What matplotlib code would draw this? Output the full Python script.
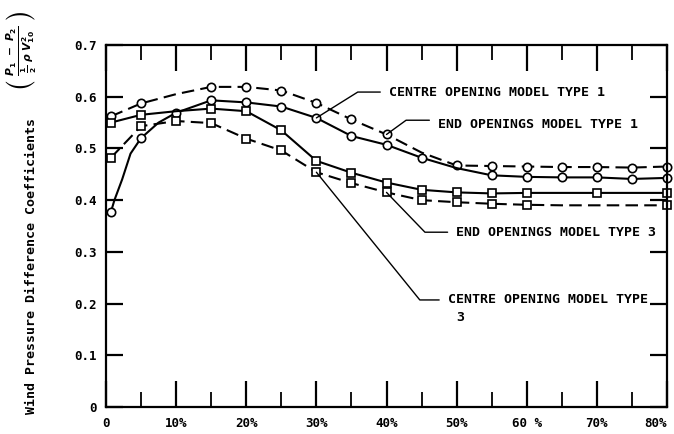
import numpy as np
import matplotlib
matplotlib.use('Agg')
import matplotlib.pyplot as plt

plt.rcParams['font.family'] = ['DejaVu Sans Mono', 'DejaVu Sans']
plt.rcParams['font.weight'] = 'bold'

# percentage of opening (x)
x_std = [0.7, 5, 10, 15, 20, 25, 30, 35, 40, 45, 50, 55, 60, 65, 70, 75, 80]
x_b = [0.7, 1.2, 2.3, 3.5, 5, 7.5, 10, 15, 20, 25, 30, 35, 40, 45, 50, 55, 60, 65, 70, 75, 80]

# end openings model type 1 (dashed, circles)
end1 = [0.562, 0.587, 0.605, 0.619, 0.619, 0.612, 0.588, 0.556, 0.527, 0.492,
        0.467, 0.466, 0.465, 0.464, 0.464, 0.463, 0.465]
end1_marks = [0.7, 5, 15, 20, 25, 30, 35, 40, 50, 55, 60, 65, 70, 75, 80]

# centre opening model type 1 (solid, circles)
centre1 = [0.377, 0.40, 0.44, 0.49, 0.52, 0.55, 0.569, 0.593, 0.589, 0.581, 0.559,
           0.524, 0.507, 0.482, 0.462, 0.448, 0.445, 0.444, 0.444, 0.441, 0.443]
centre1_marks = [0.7, 5, 10, 15, 20, 25, 30, 35, 40, 45, 55, 60, 65, 70, 75, 80]

# solid squares
solid3 = [0.55, 0.565, 0.572, 0.577, 0.572, 0.535, 0.476, 0.453, 0.434, 0.420,
          0.415, 0.413, 0.414, 0.414, 0.414, 0.414, 0.414]
solid3_marks = [0.7, 5, 15, 20, 25, 30, 35, 40, 45, 50, 55, 60, 70, 80]

# dashed squares
dashed3 = [0.482, 0.543, 0.553, 0.549, 0.519, 0.496, 0.454, 0.433, 0.415, 0.400,
           0.396, 0.393, 0.391, 0.390, 0.390, 0.390, 0.390]
dashed3_marks = [0.7, 5, 10, 15, 20, 25, 30, 35, 40, 45, 50, 55, 60, 80]

x_ticks = [0, 10, 20, 30, 40, 50, 60, 70, 80]
x_labels = ['0', '10%', '20%', '30%', '40%', '50%', '60 %', '70%', '80%']
y_ticks = [0, 0.1, 0.2, 0.3, 0.4, 0.5, 0.6, 0.7]
y_labels = ['0', '0.1', '0.2', '0.3', '0.4', '0.5', '0.6', '0.7']

fig = plt.figure(figsize=(6.74, 4.34), dpi=100)
ax = fig.add_axes([106/674, 1-407/434, (667-106)/674, (407-45)/434])


def draw(x, y, dashed, marker, marks):
    idx = [x.index(v) for v in marks]
    line, = ax.plot(x, y, color='black', lw=1.5, marker=marker, markevery=idx,
                    ms=6, mfc='white', mec='black', mew=1.2, clip_on=False)
    if dashed:
        line.set_dashes((6, 3))
    return line


draw(x_std, end1, True, 'o', end1_marks)
draw(x_b, centre1, False, 'o', centre1_marks)
draw(x_std, solid3, False, 's', solid3_marks)
draw(x_std, dashed3, True, 's', dashed3_marks)

ax.set_xlim(0, 80)
ax.set_ylim(0, 0.7)
ax.set_xticks(x_ticks)
ax.set_xticklabels(x_labels)
ax.get_xticklabels()[-1].set_ha('right')
ax.set_xticks(np.arange(5, 80, 10), minor=True)
ax.set_yticks(y_ticks)
ax.set_yticklabels(y_labels)
ax.tick_params(axis='x', which='major', direction='in', length=19, width=1.6,
               top=True, bottom=True, pad=7, labelsize=9)
ax.tick_params(axis='x', which='minor', direction='in', length=11, width=1.3,
               top=True, bottom=True)
ax.tick_params(axis='y', which='major', direction='in', length=12, width=1.6,
               left=True, right=True, pad=7, labelsize=9)
for s in ax.spines.values():
    s.set_linewidth(1.6)


def pointer(text, xy, xytext, angle, rel=0.5):
    ax.annotate(text, xy=xy, xytext=xytext, fontsize=9.5, ha='left', va='center',
                arrowprops=dict(arrowstyle='-', lw=1, color='black', shrinkA=4,
                                shrinkB=0, relpos=(0, rel),
                                connectionstyle='angle,angleA=0,angleB=%d,rad=0' % angle))


pointer('CENTRE OPENING MODEL TYPE 1', (30, centre1[x_b.index(30)]), (40.3, 0.609), 32)
pointer('END OPENINGS MODEL TYPE 1', (40, end1[x_std.index(40)]), (47.3, 0.547), 36, 0.8)
pointer('END OPENINGS MODEL TYPE 3', (40, dashed3[x_std.index(40)]), (49.9, 0.338), -46)
pointer('CENTRE OPENING MODEL TYPE', (30, dashed3[x_std.index(30)]), (48.7, 0.207), -51)
ax.text(49.9, 0.174, '3', fontsize=9.5, ha='left', va='center')

fig.text(32/674, 1-266/434, 'Wind Pressure Difference Coefficients', rotation=90,
         fontsize=9.5, ha='center', va='center')
fig.text(22/674, 1-50/434,
         r'$\left(\ \frac{P_1\ -\ P_2}{\frac{1}{2}\ \rho\ V_{10}^{2}}\ \right)$',
         rotation=90, fontsize=11, ha='center', va='center')

fig.savefig('out.png', dpi=100)
